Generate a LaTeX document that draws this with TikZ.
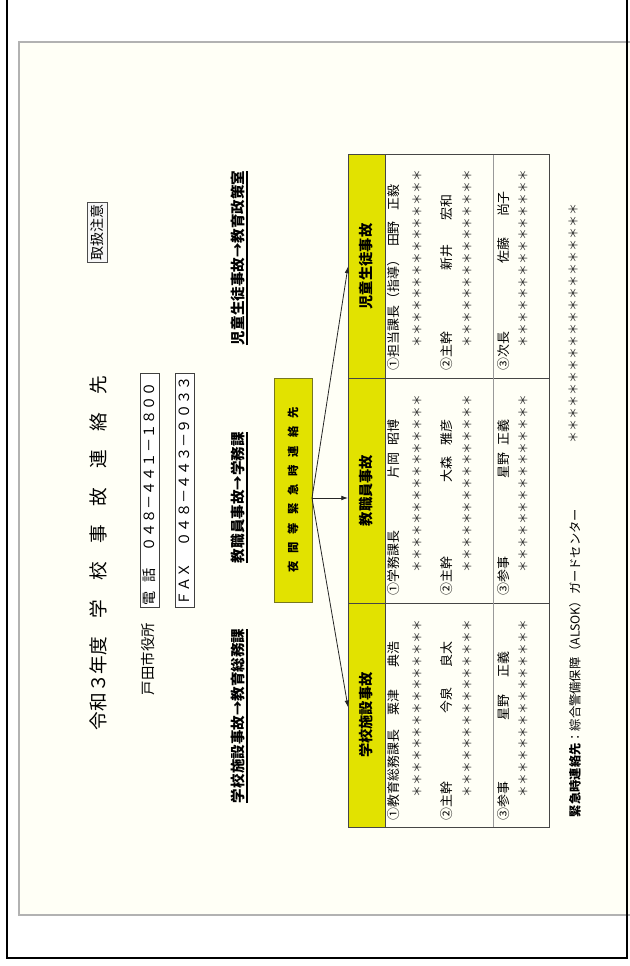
\documentclass[tikz,border=0pt]{standalone}
\usepackage{fontspec}
\setmainfont{Noto Sans CJK JP}
\usetikzlibrary{arrows.meta,calc}
\definecolor{cream}{RGB}{255,255,246}
\definecolor{ylw}{RGB}{226,226,0}
\definecolor{ylwline}{RGB}{120,120,30}
\definecolor{tline}{RGB}{70,70,70}
\newcommand{\fsz}[1]{\fontsize{#1pt}{#1pt}\selectfont}
\begin{document}
\begin{tikzpicture}[x=0.75pt,y=-0.75pt,
  vt/.style={rotate=90, inner sep=0pt, outer sep=0pt},
  vtl/.style={vt, anchor=west},
  nm/.style={vtl, font=\fsz{9.7}},
  st/.style={vtl, font=\fsz{8.85}, text=black!80},
  hdr/.style={vt, fill=ylw, draw=tline, line width=0.75pt, minimum height=27.75pt, font=\bfseries\fsz{10.7}},
  ulbl/.style={vtl, font=\bfseries\fsz{10.9}},
  telbox/.style={vt, draw=black!75, line width=0.75pt, fill=white, minimum height=14.25pt, inner xsep=1.1pt, text width=173.3pt, align=left, font=\fsz{10.6}},
  arr/.style={-{Latex[length=5pt,width=3.5pt]}, line width=0.6pt, black!85}
]
\useasboundingbox (0,0) rectangle (630,966);
\fill[white] (0,0) rectangle (630,966);
% panel
\draw[fill=cream, draw=gray!60, line width=0.8pt] (630,42) -- (19,42) -- (19,915) -- (630,915);
% outer frame
\draw[line width=1.5pt] (6.5,0) -- (6.5,957.5) -- (626.5,957.5) -- (626.5,0);

% title block
\node[vtl, font=\fsz{14}] (title) at (98,730) {令和３年度　学　校　事　故　連　絡　先};
\node[vtl, font=\fsz{10.8}] (city) at (148,695) {戸田市役所};
\node[telbox, minimum width=175.5pt] (tel) at (149.5,490) {電\hspace{0.6em}話\hspace{1.2em}０４８－４４１－１８００};
\node[telbox, minimum width=175.5pt] (fax) at (184.5,490) {ＦＡＸ\hspace{1.2em}０４８－４４３－９０３３};
\node[vt, draw=black!70, fill=gray!6, line width=0.75pt, minimum width=44.25pt, minimum height=15pt, font=\fsz{10.5}] (caution) at (97,232.5) {取扱注意};

% routing labels
\node[ulbl] (l3) at (238,345) {児童生徒事故→教育政策室};
\node[ulbl] (l2) at (238,563) {教職員事故→学務課};
\node[ulbl] (l1) at (238,803) {学校施設事故→教育総務課};
\foreach \l in {l1,l2,l3}
  \draw[line width=1.2pt] ($(\l.south west)+(1.8,0)$) -- ($(\l.south east)+(1.8,0)$);

% central box
\node[vt, fill=ylw, draw=ylwline, line width=0.75pt, minimum width=168pt, minimum height=28.5pt, font=\bfseries\fsz{8.5}] (night) at (293,490)
  {夜\hspace{0.7em}間\hspace{0.7em}等\hspace{0.7em}緊\hspace{0.7em}急\hspace{0.7em}時\hspace{0.7em}連\hspace{0.7em}絡\hspace{0.7em}先};

% table
\node[hdr, minimum width=168pt] (hd1) at (366.5,715) {学校施設事故};
\node[hdr, minimum width=168.75pt] (hd2) at (366.5,490.5) {教職員事故};
\node[hdr, minimum width=167.25pt] (hd3) at (366.5,266.5) {児童生徒事故};
\draw[tline, line width=0.75pt] (348,155) rectangle (549,827);
\draw[tline, line width=0.75pt] (348,378) -- (549,378);
\draw[tline, line width=0.75pt] (348,603) -- (549,603);
\draw[gray!80, line width=0.75pt] (493,155) -- (493,827);

% arrows
\coordinate (hub) at ($(night.south)+(0,8)$);
\draw[arr] (hub) -- ($(hd1.north)!0.07!(hd1.north east)$);
\draw[arr] (hub) -- (hub -| hd2.north);
\draw[arr] (hub) -- (hd3.north);

% column 1: 学校施設事故
\node[nm] (a1t) at (394,820) {①教育総務課長};
\node[nm] (a1s) at (394,715) {粟津};
\node[nm] (a1g) at (394,667) {典浩};
\node[st] (a1n) at (417,797) {＊＊＊＊＊＊＊＊＊＊＊＊＊＊＊};
\node[nm] (a2t) at (447,820) {②主幹};
\node[nm] (a2s) at (447,713) {今泉};
\node[nm] (a2g) at (447,667) {良太};
\node[st] (a2n) at (467,797) {＊＊＊＊＊＊＊＊＊＊＊＊＊＊＊};
\node[nm] (a3t) at (504,820) {③参事};
\node[nm] (a3s) at (504,720) {星野};
\node[nm] (a3g) at (504,677) {正義};
\node[st] (a3n) at (523,797) {＊＊＊＊＊＊＊＊＊＊＊＊＊＊＊};

% column 2: 教職員事故
\node[nm] (b1t) at (394,595) {①学務課長};
\node[nm] (b1s) at (394,478) {片岡};
\node[nm] (b1g) at (394,445) {昭博};
\node[st] (b1n) at (417,572) {＊＊＊＊＊＊＊＊＊＊＊＊＊＊＊};
\node[nm] (b2t) at (447,595) {②主幹};
\node[nm] (b2s) at (447,482) {大森};
\node[nm] (b2g) at (447,445) {雅彦};
\node[st] (b2n) at (467,572) {＊＊＊＊＊＊＊＊＊＊＊＊＊＊＊};
\node[nm] (b3t) at (504,595) {③参事};
\node[nm] (b3s) at (504,478) {星野};
\node[nm] (b3g) at (504,445) {正義};
\node[st] (b3n) at (523,572) {＊＊＊＊＊＊＊＊＊＊＊＊＊＊＊};

% column 3: 児童生徒事故
\node[nm] (c1t) at (394,370) {①担当課長（指導）};
\node[nm] (c1s) at (394,247) {田野};
\node[nm] (c1g) at (394,210) {正毅};
\node[st] (c1n) at (417,347) {＊＊＊＊＊＊＊＊＊＊＊＊＊＊＊};
\node[nm] (c2t) at (447,370) {②主幹};
\node[nm] (c2s) at (447,270) {新井};
\node[nm] (c2g) at (447,220) {宏和};
\node[st] (c2n) at (467,347) {＊＊＊＊＊＊＊＊＊＊＊＊＊＊＊};
\node[nm] (c3t) at (504,370) {③次長};
\node[nm] (c3s) at (504,263) {佐藤};
\node[nm] (c3g) at (504,217) {尚子};
\node[st] (c3n) at (523,347) {＊＊＊＊＊＊＊＊＊＊＊＊＊＊＊};

% emergency contact
\node[vtl, font=\fsz{9.2}] (emg) at (575,817) {\textbf{緊急時連絡先}：綜合警備保障（ALSOK）ガードセンター};
\node[vtl, font=\fsz{9}, text=black!80] (emgn) at (573,443) {＊＊＊＊＊＊＊＊＊＊＊＊＊＊＊＊＊＊＊＊};
\end{tikzpicture}
\end{document}
